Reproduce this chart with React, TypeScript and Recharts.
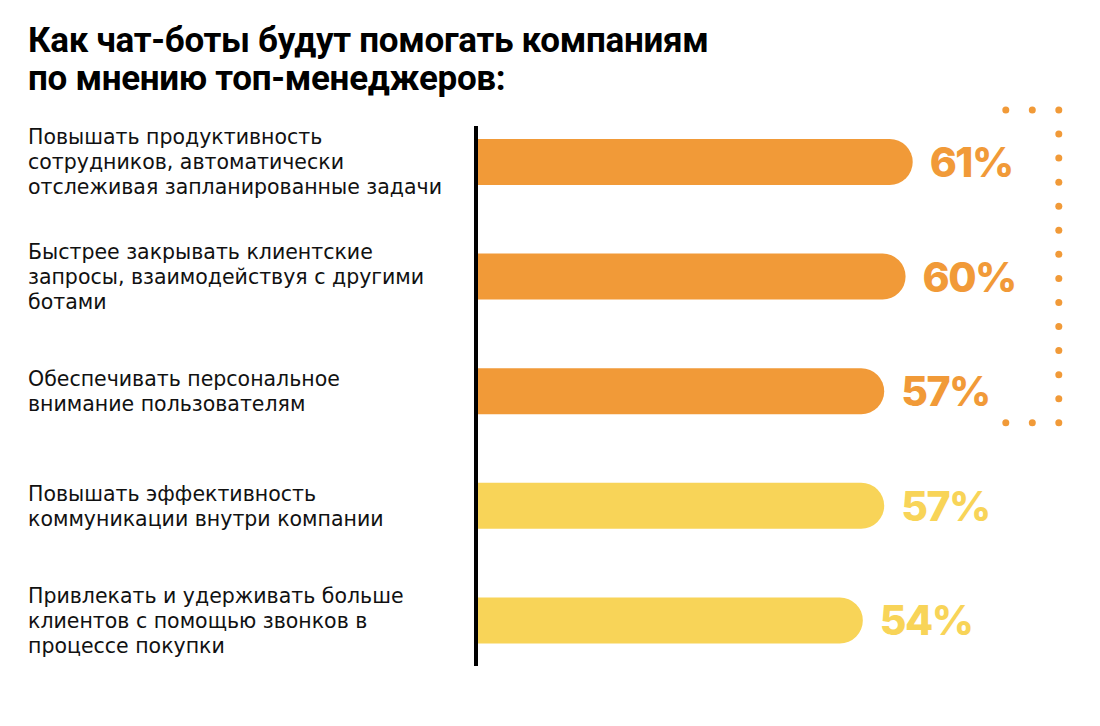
import React from 'react';
import { BarChart, Bar, XAxis, YAxis, Cell, LabelList, ReferenceLine, ReferenceArea } from 'recharts';

const categories = [
  'Повышать продуктивность\nсотрудников, автоматически\nотслеживая запланированные задачи',
  'Быстрее закрывать клиентские\nзапросы, взаимодействуя с другими\nботами',
  'Обеспечивать персональное\nвнимание пользователям',
  'Повышать эффективность\nкоммуникации внутри компании',
  'Привлекать и удерживать больше\nклиентов с помощью звонков в\nпроцессе покупки',
];
const values = [61, 60, 57, 57, 54];
const barColors = ['#F19A38', '#F19A38', '#F19A38', '#F8D458', '#F8D458'];
const titleLines = ['Как чат-боты будут помогать компаниям', 'по мнению топ-менеджеров:'];

const data = categories.map((label, i) => ({ label, value: values[i] }));

// подписи категорий слева, по строкам
const CategoryTick = ({ y, payload }: any) => {
  const lines: string[] = String(payload.value).split('\n');
  const start = -((lines.length - 1) * 25) / 2;
  return (
    <text x={28} y={y} fill="#111" fontSize={20.5} fontFamily="'DejaVu Sans', sans-serif">
      {lines.map((line, i) => (
        <tspan key={i} x={28} y={y + start + i * 25} dominantBaseline="central">
          {line}
        </tspan>
      ))}
    </text>
  );
};

const ValueLabel = ({ x, y, width, height, value, index }: any) => (
  <text
    x={x + width + 17}
    y={y + height / 2}
    dominantBaseline="central"
    fill={barColors[index]}
    fontSize={41}
    fontWeight={800}
    letterSpacing={-1.5}
    fontFamily="Inter, sans-serif"
  >
    {value}%
  </text>
);

// вертикальная ось — чуть короче области графика
const AxisLine = ({ x1, y1, x2, y2 }: any) => {
  const top = Math.min(y1, y2);
  const bottom = Math.max(y1, y2);
  return <line x1={x1 - 2} y1={top + 21} x2={x2 - 2} y2={bottom - 12} stroke="#000" strokeWidth={4} />;
};

// пунктирная скобка вокруг первых трёх пунктов
const Bracket = ({ x, y, width, height }: any) => {
  const right = x + width;
  const top = y + 5;
  const bottom = y + height - 26;
  const dots: { cx: number; cy: number }[] = [];
  const n = 13;
  for (let i = 0; i <= n; i++) dots.push({ cx: right, cy: top + ((bottom - top) * i) / n });
  dots.push({ cx: right - 26.5, cy: top }, { cx: right - 53, cy: top });
  dots.push({ cx: right - 26.5, cy: bottom }, { cx: right - 53, cy: bottom });
  return (
    <g>
      {dots.map((d, i) => (
        <circle key={i} cx={d.cx} cy={d.cy} r={3.5} fill="#F19A38" />
      ))}
    </g>
  );
};

export default function App() {
  return (
    <div style={{ position: 'absolute', left: 0, top: 0, width: 1100, height: 726, background: '#fff' }}>
      <div
        style={{
          position: 'absolute',
          left: 28,
          top: 22,
          fontFamily: 'Roboto, sans-serif',
          fontWeight: 700,
          fontSize: 35,
          lineHeight: '38px',
          letterSpacing: -0.3,
          color: '#000',
        }}
      >
        {titleLines.map((t) => (
          <div key={t}>{t}</div>
        ))}
      </div>
      <BarChart
        width={1100}
        height={726}
        data={data}
        layout="vertical"
        margin={{ top: 105, right: 2, bottom: 48, left: 0 }}
        barSize={46}
      >
        <XAxis type="number" domain={[0, 87]} hide />
        <YAxis
          type="category"
          dataKey="label"
          width={478}
          axisLine={false}
          tickLine={false}
          tick={<CategoryTick />}
        />
        <ReferenceArea
          y1={categories[0]}
          y2={categories[2]}
          x1={74}
          x2={81.5}
          ifOverflow="visible"
          shape={<Bracket />}
        />
        <Bar dataKey="value" radius={[0, 23, 23, 0]} isAnimationActive={false}>
          {data.map((d, i) => (
            <Cell key={d.label} fill={barColors[i]} />
          ))}
          <LabelList dataKey="value" content={<ValueLabel />} />
        </Bar>
        <ReferenceLine x={0} shape={<AxisLine />} ifOverflow="visible" />
      </BarChart>
    </div>
  );
}
